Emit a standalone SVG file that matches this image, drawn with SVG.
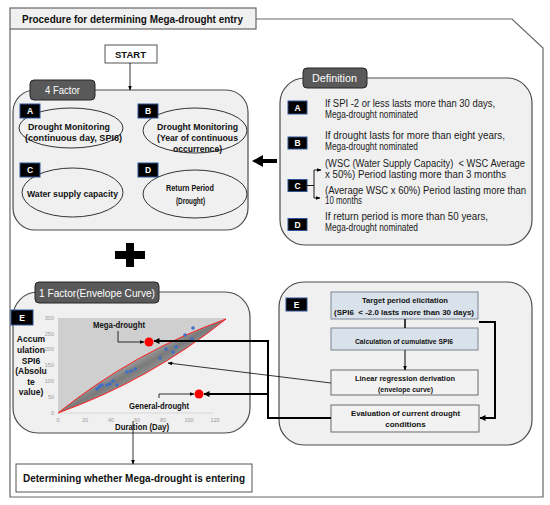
<svg xmlns="http://www.w3.org/2000/svg" width="550" height="505" viewBox="0 0 550 505">
<style>
text{font-family:"Liberation Sans",Arial,sans-serif}
.b{font-weight:bold}
.panel{fill:#f0f0f0;stroke:#4d4d4d;stroke-width:1.2}
.tab{fill:#595959;stroke:#262626;stroke-width:1}
.tabt{fill:#fff}
.let{fill:#000;stroke:#2e5597;stroke-width:1}
.lett{fill:#fff;font-weight:bold;font-size:8.5px;text-anchor:middle}
.ell{fill:#f0f0f0;stroke:#333;stroke-width:1}
.et{font-weight:bold;font-size:9px;fill:#111}
.dt{font-size:10px;fill:#1a1a1a}
.box1{fill:#d9e1ea;stroke:#7a8594;stroke-width:1}
.box2{fill:#f2f2f2;stroke:#6b6b6b;stroke-width:1}
.bt{font-weight:bold;font-size:8px;fill:#111}
.tick{font-size:5.5px;fill:#9a9a9a}
.ln{fill:none;stroke:#000}
</style>
<defs>
<marker id="ah" markerUnits="userSpaceOnUse" markerWidth="6" markerHeight="6" refX="5.5" refY="3" orient="auto"><path d="M0,0 L6,3 L0,6 z" fill="#000"/></marker>
<marker id="ahs" markerUnits="userSpaceOnUse" markerWidth="5" markerHeight="4" refX="4.5" refY="2" orient="auto"><path d="M0,0 L5,2 L0,4 z" fill="#000"/></marker>
<marker id="ahb" markerUnits="userSpaceOnUse" markerWidth="11" markerHeight="12" refX="0" refY="6" orient="auto"><path d="M0,0 L11,6 L0,12 z" fill="#000"/></marker>
<linearGradient id="bandg" gradientUnits="userSpaceOnUse" x1="134" y1="352" x2="150" y2="380">
<stop offset="0" stop-color="#b8b8b8"/><stop offset="0.5" stop-color="#7a7a7a"/><stop offset="1" stop-color="#a3a3a3"/>
</linearGradient>
</defs>

<g id="frame">
<path d="M256,19 H512 L543,48 V497 H10 V29" fill="none" stroke="#666" stroke-width="1.2"/>
<rect x="10" y="8" width="246" height="21" fill="#f0f0f0" stroke="#666" stroke-width="1.2"/>
<text class="b" x="22" y="23" font-size="10px" textLength="221" lengthAdjust="spacingAndGlyphs" fill="#111">Procedure for determining Mega-drought entry</text>
</g>

<g id="start">
<rect x="105" y="45" width="52" height="18" fill="#fff" stroke="#555" stroke-width="1"/>
<text class="b" x="115" y="57.5" font-size="9.5px" textLength="31" lengthAdjust="spacingAndGlyphs" fill="#111">START</text>
</g>

<g id="factor4">
<rect class="panel" x="13" y="90" width="235" height="140" rx="22"/>
<rect class="tab" x="30" y="80" width="65" height="20" rx="4"/>
<text class="tabt" x="45" y="94" font-size="10px" textLength="35" lengthAdjust="spacingAndGlyphs">4 Factor</text>
</g>

<g id="nodeA">
<ellipse class="ell" cx="71" cy="128" rx="52" ry="20"/>
<rect class="let" x="20" y="104" width="20" height="14"/>
<text class="lett" x="30" y="114">A</text>
<text class="et" x="28" y="129.5" textLength="82" lengthAdjust="spacingAndGlyphs">Drought Monitoring</text>
<text class="et" x="25" y="140.5" textLength="97" lengthAdjust="spacingAndGlyphs">(continuous day, SPI6)</text>
</g>

<g id="nodeB">
<ellipse class="ell" cx="195" cy="130.5" rx="52" ry="22.5"/>
<rect class="let" x="138" y="104" width="20" height="14"/>
<text class="lett" x="148" y="114">B</text>
<text class="et" x="157" y="129.5" textLength="81" lengthAdjust="spacingAndGlyphs">Drought Monitoring</text>
<text class="et" x="157" y="140.5" textLength="81" lengthAdjust="spacingAndGlyphs">(Year of continuous</text>
<text class="et" x="173" y="151.5" textLength="49" lengthAdjust="spacingAndGlyphs">occurrence)</text>
</g>

<g id="nodeC">
<ellipse class="ell" cx="72.5" cy="192.5" rx="50.5" ry="24.5"/>
<rect class="let" x="20" y="163" width="20" height="14"/>
<text class="lett" x="30" y="173">C</text>
<text class="et" x="27" y="196.5" textLength="91" lengthAdjust="spacingAndGlyphs">Water supply capacity</text>
</g>

<g id="nodeD">
<ellipse class="ell" cx="195" cy="194" rx="52" ry="24"/>
<rect class="let" x="138" y="163" width="20" height="14"/>
<text class="lett" x="148" y="173">D</text>
<text class="et" x="166" y="190.5" font-size="8.5px" textLength="48" lengthAdjust="spacingAndGlyphs">Return Period</text>
<text class="et" x="176" y="203.5" font-size="8.5px" textLength="29" lengthAdjust="spacingAndGlyphs">(Drought)</text>
</g>

<g id="definition">
<rect class="panel" x="280" y="78" width="252" height="167" rx="25"/>
<rect class="tab" x="303" y="68" width="64" height="20" rx="4"/>
<text class="tabt" x="312" y="82" font-size="10px" textLength="45" lengthAdjust="spacingAndGlyphs">Definition</text>
<rect class="let" x="288" y="101" width="19" height="13"/>
<text class="lett" x="297.5" y="110.5">A</text>
<text class="dt" x="325" y="106.5" textLength="170" lengthAdjust="spacingAndGlyphs">If SPI -2 or less lasts more than 30 days,</text>
<text class="dt" x="325" y="118" textLength="93" lengthAdjust="spacingAndGlyphs">Mega-drought nominated</text>
<rect class="let" x="288" y="137" width="19" height="12"/>
<text class="lett" x="297.5" y="146">B</text>
<text class="dt" x="325" y="138.5" textLength="180" lengthAdjust="spacingAndGlyphs">If drought lasts for more than eight years,</text>
<text class="dt" x="325" y="149.5" textLength="93" lengthAdjust="spacingAndGlyphs">Mega-drought nominated</text>
<rect class="let" x="288" y="179.5" width="19" height="12"/>
<text class="lett" x="297.5" y="188.5">C</text>
<text class="dt" x="325" y="166.5" textLength="200" lengthAdjust="spacingAndGlyphs">(WSC (Water Supply Capacity)&#160; &lt; WSC Average</text>
<text class="dt" x="325" y="178" textLength="181" lengthAdjust="spacingAndGlyphs">x 50%) Period lasting more than 3 months</text>
<text class="dt" x="325" y="193.5" textLength="201" lengthAdjust="spacingAndGlyphs">(Average WSC x 60%) Period lasting more than</text>
<text class="dt" x="325" y="204" textLength="37" lengthAdjust="spacingAndGlyphs">10 months</text>
<rect class="let" x="288" y="218.5" width="19" height="12"/>
<text class="lett" x="297.5" y="227.5">D</text>
<text class="dt" x="325" y="220" textLength="163" lengthAdjust="spacingAndGlyphs">If return period is more than 50 years,</text>
<text class="dt" x="325" y="231" textLength="93" lengthAdjust="spacingAndGlyphs">Mega-drought nominated</text>
</g>

<g id="plus">
<rect x="126" y="243" width="8" height="24" fill="#000"/>
<rect x="115" y="251" width="30" height="8" fill="#000"/>
</g>

<g id="factor1">
<rect class="panel" x="13" y="292" width="237" height="141" rx="25"/>
<rect class="tab" x="35" y="282" width="124" height="21" rx="4"/>
<text class="tabt" x="39" y="296.5" font-size="11px" textLength="116" lengthAdjust="spacingAndGlyphs">1 Factor(Envelope Curve)</text>
<rect class="let" x="11" y="310" width="22" height="15"/>
<text class="lett" x="22" y="320.5" font-size="9px">E</text>
</g>

<g id="chart">
<path d="M58,318 H226 L226,319 Q134,352 58,413 Z" fill="#cfcfcf"/>
<line x1="58" y1="413" x2="213" y2="413" stroke="#d0d0d0" stroke-width="0.8"/>
<path d="M58,413 Q134,352 226,319 Q150,380 58,413 Z" fill="url(#bandg)" stroke="#ff2020" stroke-width="1"/>
<g fill="#3f6fc6">
<circle cx="97" cy="389" r="1.8"/><circle cx="99" cy="387" r="1.8"/><circle cx="100" cy="386" r="1.8"/>
<circle cx="102" cy="385" r="1.8"/><circle cx="107" cy="385" r="1.8"/><circle cx="110" cy="384" r="1.8"/>
<circle cx="113" cy="381" r="1.8"/><circle cx="117" cy="385" r="1.8"/><circle cx="127" cy="372" r="1.8"/>
<circle cx="131" cy="371" r="1.8"/><circle cx="135" cy="369" r="1.8"/><circle cx="160" cy="358" r="1.8"/>
<circle cx="166" cy="349" r="1.8"/><circle cx="173" cy="352" r="1.8"/><circle cx="176" cy="347" r="1.8"/>
<circle cx="185" cy="335" r="1.8"/><circle cx="192" cy="339" r="1.8"/><circle cx="193" cy="328" r="1.8"/>
</g>
<g class="tick" text-anchor="end">
<text x="54" y="320">300</text><text x="54" y="335.5">250</text><text x="54" y="351">200</text>
<text x="54" y="367">150</text><text x="54" y="383">100</text><text x="54" y="399">50</text><text x="54" y="415">0</text>
</g>
<g class="tick" text-anchor="middle">
<text x="58" y="422">0</text><text x="85" y="422">20</text><text x="111" y="422">40</text>
<text x="137" y="422">60</text><text x="163" y="422">80</text><text x="189" y="422">100</text><text x="215" y="422">120</text>
</g>
<g class="b" font-size="8.5px" fill="#111" text-anchor="middle">
<text x="31" y="342">Accum</text><text x="31" y="353">ulation</text><text x="31" y="364">SPI6</text>
<text x="31" y="374">(Absolu</text><text x="31" y="385">te</text><text x="31" y="395">value)</text>
</g>
<circle cx="149" cy="342" r="4.5" fill="#ff0000"/>
<circle cx="199" cy="394" r="4.5" fill="#ff0000"/>
<text class="b" x="93" y="328" font-size="8.5px" textLength="52" lengthAdjust="spacingAndGlyphs" fill="#111">Mega-drought</text>
<text class="b" x="129" y="408.5" font-size="8.5px" textLength="60" lengthAdjust="spacingAndGlyphs" fill="#111">General-drought</text>
<text class="b" x="115" y="429.5" font-size="9px" textLength="54" lengthAdjust="spacingAndGlyphs" fill="#111">Duration (Day)</text>
</g>

<g id="procE">
<rect class="panel" x="279" y="282" width="253" height="163" rx="25"/>
<rect class="let" x="286" y="298" width="21" height="13"/>
<text class="lett" x="296.5" y="308" font-size="9px">E</text>
</g>

<g id="target">
<rect class="box1" x="331" y="292" width="147" height="27"/>
<text class="bt" x="362" y="303" textLength="86" lengthAdjust="spacingAndGlyphs">Target period elicitation</text>
<text class="bt" x="334" y="315" textLength="140" lengthAdjust="spacingAndGlyphs">(SPI6&#160; &lt; -2.0 lasts more than 30 days)</text>
</g>
<g id="calc">
<rect class="box1" x="331" y="328" width="147" height="22"/>
<text class="bt" x="355" y="343.5" textLength="98" lengthAdjust="spacingAndGlyphs">Calculation of cumulative SPI6</text>
</g>
<g id="linear">
<rect class="box2" x="331" y="370" width="147" height="25"/>
<text class="bt" x="355" y="381" textLength="100" lengthAdjust="spacingAndGlyphs">Linear regression derivation</text>
<text class="bt" x="378" y="391.5" textLength="55" lengthAdjust="spacingAndGlyphs">(envelope curve)</text>
</g>
<g id="evaluation">
<rect class="box2" x="331" y="405" width="148" height="27"/>
<text class="bt" x="351" y="416" textLength="109" lengthAdjust="spacingAndGlyphs">Evaluation of current drought</text>
<text class="bt" x="405.5" y="426.5" text-anchor="middle">conditions</text>
</g>

<g id="result">
<rect x="16" y="464" width="236" height="28" fill="#fff" stroke="#555" stroke-width="1"/>
<text class="b" x="23" y="482" font-size="10.5px" textLength="222" lengthAdjust="spacingAndGlyphs" fill="#111">Determining whether Mega-drought is entering</text>
</g>

<g id="connectors">
<line class="ln" x1="130" y1="63" x2="130" y2="90" stroke-width="0.8" marker-end="url(#ahs)"/>
<line class="ln" x1="277" y1="161" x2="263" y2="161" stroke-width="4" marker-end="url(#ahb)"/>
<path class="ln" d="M307,185.5 H314 M314,170 V198" stroke-width="0.9"/>
<line class="ln" x1="314" y1="170" x2="321" y2="170" stroke-width="0.9" marker-end="url(#ahs)"/>
<line class="ln" x1="314" y1="198" x2="320" y2="198" stroke-width="0.9" marker-end="url(#ahs)"/>
<path class="ln" d="M118,331 V342 H144" stroke-width="0.8" marker-end="url(#ahs)"/>
<path class="ln" d="M159,398 V394 H194" stroke-width="0.8" marker-end="url(#ahs)"/>
<path class="ln" d="M331,418 H268 V341 H154" stroke-width="2" marker-end="url(#ah)"/>
<path class="ln" d="M268,394 H204" stroke-width="2" marker-end="url(#ah)"/>
<line class="ln" x1="331" y1="383" x2="168" y2="363" stroke-width="0.8" stroke="#222" marker-end="url(#ahs)"/>
<line class="ln" x1="405" y1="319" x2="405" y2="328" stroke-width="1.5" stroke="#444"/>
<line class="ln" x1="405" y1="350" x2="405" y2="370" stroke-width="1" marker-end="url(#ahs)"/>
<path class="ln" d="M479,322 H495 V418 H480" stroke-width="2" marker-end="url(#ah)"/>
<line class="ln" x1="133" y1="421" x2="133" y2="464" stroke-width="0.8" marker-end="url(#ahs)"/>
</g>
</svg>
